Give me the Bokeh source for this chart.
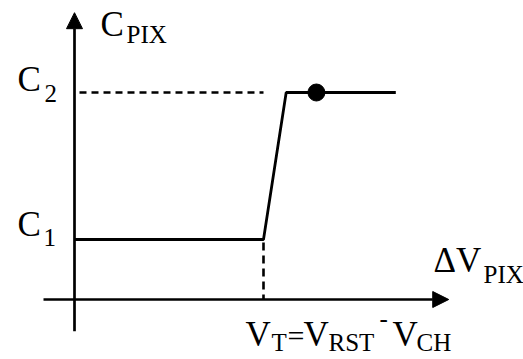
from bokeh.plotting import figure
from bokeh.models import Arrow, NormalHead, Range1d
from bokeh.core.properties import value
from bokeh.embed import file_html
from bokeh.resources import INLINE

# Pixel capacitance vs. pixel voltage step: two levels with a threshold transition
C1 = 1.0          # low capacitance level
C2 = 3.45         # high capacitance level
VT = 5.0          # threshold V_T = V_RST - V_CH
DV_RISE = 5.6     # end of the transition ramp
DV_MAX = 8.5      # end of the drawn curve
DV_POINT = 6.4    # operating point on the C2 plateau

curve_dv = [0.0, VT, DV_RISE, DV_MAX]
curve_c = [C1, C1, C2, C2]
point_dv = [DV_POINT]
point_c = [C2]

# axis extents (arrows)
X_AXIS = (-0.82, 9.9)
Y_AXIS = (-0.53, 4.78)

W, H = 523, 359
X0_PX, Y0_PX = 74, 299      # where the axes cross on the canvas
SX, SY = 37.8, 60.0         # pixels per unit

p = figure(width=W, height=H, output_backend="svg", toolbar_location=None,
           x_range=Range1d(-X0_PX / SX, (W - X0_PX) / SX),
           y_range=Range1d(-(H - Y0_PX) / SY, Y0_PX / SY),
           min_border=0, min_border_left=0, min_border_right=0,
           min_border_top=0, min_border_bottom=0)
p.axis.visible = False
p.grid.visible = False
p.outline_line_color = None
p.background_fill_color = "white"
p.border_fill_color = "white"


def px(x, y):
    """Canvas pixel -> data coordinates (for text placement)."""
    return (x - X0_PX) / SX, (Y0_PX - y) / SY


# axes with arrow heads
for xs, ys, xe, ye in [(X_AXIS[0], 0, X_AXIS[1], 0), (0, Y_AXIS[0], 0, Y_AXIS[1])]:
    p.add_layout(Arrow(x_start=xs, y_start=ys, x_end=xe, y_end=ye,
                       line_width=2.7, line_color="black",
                       end=NormalHead(size=16, fill_color="black", line_color="black", line_width=1)))

# dashed guides
p.line([0, VT], [C2, C2], line_color="black", line_width=2.6, line_dash="7 5", line_dash_offset=7)
p.line([VT, VT], [0, C1], line_color="black", line_width=2.6, line_dash="8 5", line_dash_offset=3)

# characteristic curve and operating point
p.line(curve_dv, curve_c, line_color="black", line_width=2.8)
p.scatter(point_dv, point_c, size=17, fill_color="black", line_color="black")

FONT = "Liberation Serif"


def label(text, x, base, size):
    """Place text with its left edge at x and its baseline at canvas row `base`."""
    dx, dy = px(x, base - 0.35 * size)
    p.text([dx], [dy], text=[text], text_font=value(FONT), text_font_size=f"{size}px",
           text_color="black", text_align="left", text_baseline="middle")


BIG, SUB = 35, 25
label("C", 100, 36, BIG)
label("PIX", 126, 43, SUB)

label("C", 17, 91, BIG)
label("2", 44, 102, SUB)

label("C", 17, 236, BIG)
label("1", 43, 246, SUB)

label("\u0394V", 433, 272, BIG)
label("PIX", 483, 283, SUB)

label("V", 245, 346, BIG)
label("T", 271, 351, SUB)
label("=", 287, 345, 30)
label("V", 303, 346, BIG)
label("RST", 328, 351, SUB)
label("-", 379, 327, SUB)
label("V", 392, 346, BIG)
label("CH", 416, 351, SUB)

open("out.html", "w").write(file_html(p, INLINE))
